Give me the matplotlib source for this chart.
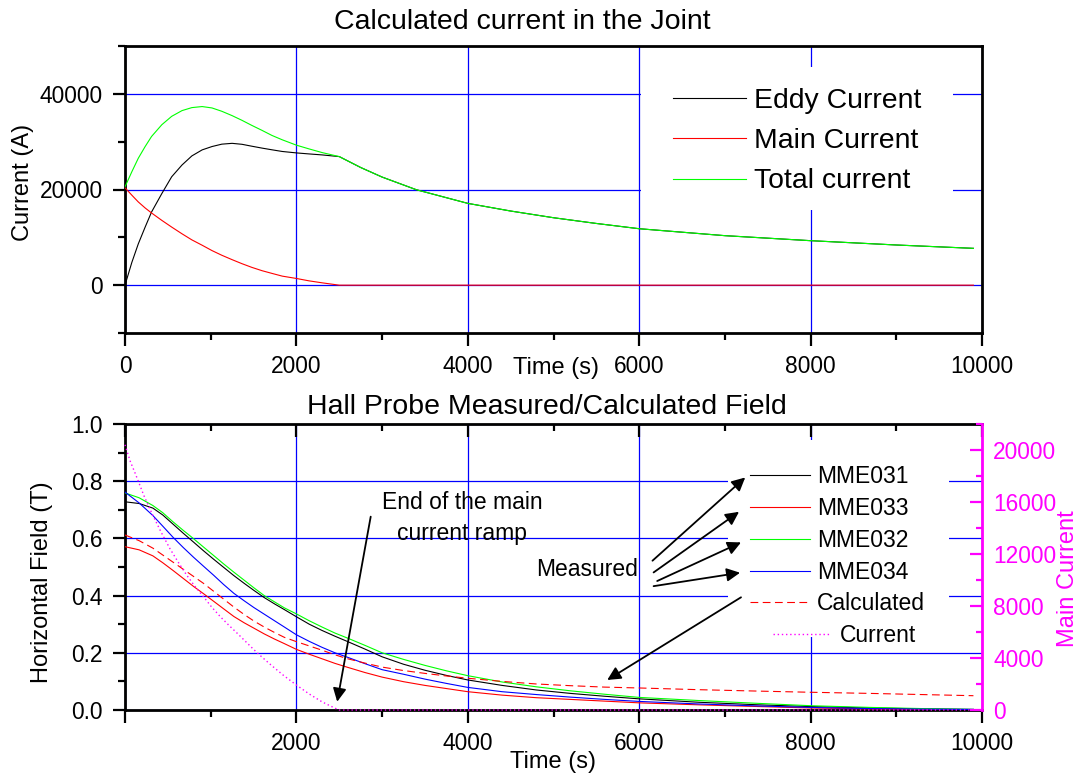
import matplotlib
matplotlib.use("Agg")
import matplotlib.pyplot as plt
from matplotlib.patches import Rectangle
from matplotlib.ticker import MultipleLocator, FixedLocator

plt.rcParams['font.family'] = ['Liberation Sans', 'DejaVu Sans']

# ---------------- data: top chart (current in the joint) ----------------
t_top = [0, 80, 155, 235, 310, 430, 545, 665, 780, 900, 1015, 1130, 1250, 1365,
         1480, 1600, 1715, 1835, 2000, 2145, 2300, 2500, 2750, 3000, 3400, 4000,
         4500, 5000, 5500, 6000, 7000, 8000, 9000, 9900]
eddy_current = [0, 4770, 8630, 12140, 15300, 19160, 22670, 25120, 27020, 28280,
                28980, 29480, 29650, 29450, 29050, 28650, 28300, 27950, 27650,
                27440, 27230, 26880, 24600, 22600, 19950, 17100, 15500, 14100,
                12900, 11800, 10350, 9300, 8400, 7700]
main_current = [20350, 18810, 17400, 16140, 15090, 13540, 12140, 10740, 9470,
                8350, 7230, 6250, 5330, 4490, 3720, 3020, 2460, 1890, 1400, 910,
                490, 0, 0, 0, 0, 0, 0, 0, 0, 0, 0, 0, 0, 0]
total_current = [20560, 23720, 26530, 28980, 31090, 33550, 35300, 36490, 37120,
                 37340, 37050, 36350, 35440, 34460, 33400, 32350, 31300, 30390,
                 29270, 28500, 27720, 26880, 24600, 22600, 19950, 17100, 15500,
                 14100, 12900, 11800, 10350, 9300, 8400, 7700]
top_labels = ['Eddy Current', 'Main Current', 'Total current']
top_xticks = [0, 2000, 4000, 6000, 8000, 10000]
top_xticklabels = ['0', '2000', '4000', '6000', '8000', '10000']
top_yticks = [0, 20000, 40000]
top_yticklabels = ['0', '20000', '40000']

# ---------------- data: bottom chart (Hall probe field) ----------------
t_bot = [0, 165, 325, 440, 560, 680, 800, 915, 1035, 1150, 1270, 1390, 1505,
         1625, 1745, 1860, 2000, 2150, 2300, 2450, 2600, 2800, 3000, 3250, 3500,
         3750, 4000, 4400, 4800, 5200, 5600, 6000, 6700, 7400, 8000, 8700, 9300,
         9900]
mme031 = [0.728, 0.722, 0.706, 0.682, 0.650, 0.618, 0.587, 0.557, 0.527, 0.499,
          0.470, 0.443, 0.418, 0.393, 0.371, 0.351, 0.326, 0.300, 0.278, 0.258,
          0.239, 0.213, 0.186, 0.160, 0.139, 0.121, 0.105, 0.086, 0.070, 0.058,
          0.048, 0.039, 0.027, 0.018, 0.012, 0.007, 0.004, 0.002]
mme033 = [0.571, 0.560, 0.539, 0.515, 0.488, 0.460, 0.432, 0.407, 0.380, 0.354,
          0.327, 0.305, 0.286, 0.266, 0.248, 0.232, 0.212, 0.195, 0.179, 0.163,
          0.149, 0.131, 0.115, 0.099, 0.086, 0.075, 0.064, 0.052, 0.043, 0.037,
          0.031, 0.025, 0.018, 0.012, 0.007, 0.004, 0.002, 0.001]
mme032 = [0.759, 0.742, 0.715, 0.690, 0.658, 0.628, 0.599, 0.570, 0.540, 0.511,
          0.482, 0.454, 0.427, 0.400, 0.378, 0.357, 0.336, 0.312, 0.290, 0.269,
          0.251, 0.226, 0.200, 0.177, 0.156, 0.137, 0.120, 0.098, 0.081, 0.067,
          0.055, 0.044, 0.033, 0.023, 0.015, 0.009, 0.005, 0.002]
mme034 = [0.762, 0.724, 0.680, 0.643, 0.604, 0.568, 0.534, 0.503, 0.471, 0.439,
          0.408, 0.382, 0.358, 0.335, 0.312, 0.290, 0.263, 0.240, 0.219, 0.200,
          0.184, 0.162, 0.141, 0.125, 0.108, 0.093, 0.079, 0.064, 0.054, 0.045,
          0.037, 0.030, 0.021, 0.014, 0.009, 0.005, 0.003, 0.002]
calculated = [0.612, 0.592, 0.566, 0.542, 0.517, 0.492, 0.467, 0.443, 0.415,
              0.388, 0.360, 0.334, 0.311, 0.290, 0.271, 0.254, 0.239, 0.224,
              0.209, 0.193, 0.179, 0.164, 0.150, 0.138, 0.128, 0.119, 0.111,
              0.100, 0.091, 0.085, 0.080, 0.077, 0.071, 0.066, 0.062, 0.058,
              0.054, 0.050]
t_cur = [0, 60, 126, 220, 323, 420, 521, 620, 718, 815, 915, 1010, 1112, 1210,
         1310, 1410, 1507, 1605, 1704, 1850, 2000, 2150, 2296, 2400, 2454, 2500,
         10000]
ramp_current = [20400, 19150, 18090, 16500, 15000, 13700, 12450, 11380, 10390,
                9520, 8720, 7930, 7180, 6530, 5900, 5250, 4620, 4030, 3460, 2660,
                1920, 1230, 640, 300, 130, 0, 0]
bot_labels = ['MME031', 'MME033', 'MME032', 'MME034', 'Calculated', 'Current']
bot_xticks = [0, 2000, 4000, 6000, 8000, 10000]
bot_xticklabels = ['', '2000', '4000', '6000', '8000', '10000']
bot_yticks = [0.0, 0.2, 0.4, 0.6, 0.8, 1.0]
bot_yticklabels = ['0.0', '0.2', '0.4', '0.6', '0.8', '1.0']
right_yticks = [0, 4000, 8000, 12000, 16000, 20000]
right_yticklabels = ['0', '4000', '8000', '12000', '16000', '20000']

GREEN = '#00ff00'
MAG = '#ff00ff'
W, H = 1082, 779
TICK_FS = 16.4
LAB_FS = 17
TITLE_FS = 20.5
SPW = 2.0

fig = plt.figure(figsize=(W / 100, H / 100), dpi=100)
ax1 = fig.add_axes([125 / W, 1 - 333 / H, 857 / W, 287 / H])
ax2 = fig.add_axes([125 / W, 1 - 710 / H, 857 / W, 286 / H])

# ---------------- top chart ----------------
ax1.plot(t_top, eddy_current, color='black', lw=0.8, label=top_labels[0], zorder=3)
ax1.plot(t_top, main_current, color='red', lw=0.8, label=top_labels[1], zorder=3)
ax1.plot(t_top, total_current, color=GREEN, lw=0.8, label=top_labels[2], zorder=3)
ax1.set_xlim(0, 10000)
ax1.set_ylim(-10000, 50000)
ax1.xaxis.set_major_locator(FixedLocator(top_xticks))
ax1.set_xticklabels(top_xticklabels)
ax1.xaxis.set_minor_locator(MultipleLocator(1000))
ax1.yaxis.set_major_locator(FixedLocator(top_yticks))
ax1.set_yticklabels(top_yticklabels)
ax1.yaxis.set_minor_locator(FixedLocator([-10000, 10000, 30000, 50000]))
ax1.grid(True, which='major', color='blue', lw=0.9)
ax1.tick_params(which='both', direction='out', width=1.6, labelsize=TICK_FS, pad=7)
ax1.tick_params(which='major', length=9)
ax1.tick_params(which='minor', length=5)
for s in ax1.spines.values():
    s.set_linewidth(SPW)
ax1.set_xlabel('Time (s)', fontsize=LAB_FS)
ax1.xaxis.set_label_coords(0.503, -0.082)
ax1.set_ylabel('Current (A)', fontsize=LAB_FS)
ax1.yaxis.set_label_coords(-0.106, 0.526)
ax1.add_patch(Rectangle((0.602, 0.429), 0.364, 0.498, transform=ax1.transAxes,
                        facecolor='white', edgecolor='none', zorder=1.6))
ax1.legend(loc='center left', bbox_to_anchor=(0.6394, 0.668), frameon=False,
           fontsize=20.4, handlelength=2.58, handletextpad=0.28,
           labelspacing=0.5, borderpad=0, borderaxespad=0)
fig.text(522 / W, 1 - 22 / H, 'Calculated current in the Joint',
         fontsize=TITLE_FS, ha='center', va='center')

# ---------------- bottom chart ----------------
l1, = ax2.plot(t_bot, mme031, color='black', lw=0.8, label=bot_labels[0], zorder=3)
l2, = ax2.plot(t_bot, mme033, color='red', lw=0.8, label=bot_labels[1], zorder=3)
l3, = ax2.plot(t_bot, mme032, color=GREEN, lw=0.8, label=bot_labels[2], zorder=3)
l4, = ax2.plot(t_bot, mme034, color='blue', lw=0.8, label=bot_labels[3], zorder=3)
l5, = ax2.plot(t_bot, calculated, color='red', lw=0.8, ls=(0, (7, 4)),
               label=bot_labels[4], zorder=3)
ax2.set_xlim(0, 10000)
ax2.set_ylim(0, 1)
ax2.xaxis.set_major_locator(FixedLocator(bot_xticks))
ax2.set_xticklabels(bot_xticklabels)
ax2.xaxis.set_minor_locator(MultipleLocator(1000))
ax2.yaxis.set_major_locator(FixedLocator(bot_yticks))
ax2.set_yticklabels(bot_yticklabels)
ax2.yaxis.set_minor_locator(MultipleLocator(0.1))
ax2.grid(True, which='major', color='blue', lw=0.9)
ax2.tick_params(which='both', direction='out', width=1.6, labelsize=TICK_FS, pad=7)
ax2.tick_params(which='major', length=9)
ax2.tick_params(which='minor', length=5)
for s in ax2.spines.values():
    s.set_linewidth(SPW)
ax2.spines['right'].set_visible(False)
ax2.set_xlabel('Time (s)', fontsize=LAB_FS)
ax2.xaxis.set_label_coords(0.5, -0.143)
ax2.set_ylabel('Horizontal Field (T)', fontsize=LAB_FS)
ax2.yaxis.set_label_coords(-0.084, 0.448)
ax2.add_patch(Rectangle((0.704, 0.255), 0.257, 0.689, transform=ax2.transAxes,
                        facecolor='white', edgecolor='none', zorder=1.6))
ax2.legend(handles=[l1, l2, l3, l4, l5], loc='center left',
           bbox_to_anchor=(0.729, 0.593), frameon=False, fontsize=16.5,
           handlelength=2.62, handletextpad=0.3, labelspacing=0.38,
           borderpad=0, borderaxespad=0)

# annotations
ax2.text(3935, 0.67, 'End of the main\ncurrent ramp', fontsize=16.5,
         ha='center', va='center', linespacing=1.45, zorder=4)
ax2.text(5390, 0.49, 'Measured', fontsize=16.5, ha='center', va='center', zorder=4)
arrow_kw = dict(arrowstyle='-|>', color='black', lw=1.3, mutation_scale=20,
                shrinkA=0, shrinkB=0)
ax2.annotate('', xy=(2476, 0.029), xytext=(2867, 0.676), arrowprops=arrow_kw, zorder=5)
for (x0, y0, x1, y1) in [(6155, 0.522, 7237, 0.813), (6168, 0.481, 7165, 0.693),
                         (6210, 0.451, 7188, 0.586), (6168, 0.433, 7177, 0.480),
                         (7188, 0.394, 5627, 0.105)]:
    ax2.annotate('', xy=(x1, y1), xytext=(x0, y0), arrowprops=arrow_kw, zorder=5)

# right axis: main current
ax3 = ax2.twinx()
l6, = ax3.plot(t_cur, ramp_current, color=MAG, lw=1.0, ls=(0, (1, 2)),
               label=bot_labels[5], clip_on=False, zorder=4)
ax3.set_ylim(0, 22000)
ax3.yaxis.set_major_locator(FixedLocator(right_yticks))
ax3.set_yticklabels(right_yticklabels)
ax3.yaxis.set_minor_locator(MultipleLocator(2000))
ax3.tick_params(axis='y', which='both', direction='in', colors=MAG, width=1.6,
                labelsize=TICK_FS, pad=8)
ax3.tick_params(axis='y', which='major', length=9)
ax3.tick_params(axis='y', which='minor', length=4)
for k in ['left', 'top', 'bottom']:
    ax3.spines[k].set_visible(False)
ax3.spines['right'].set_color(MAG)
ax3.spines['right'].set_linewidth(SPW)
ax3.xaxis.set_visible(True)
ax3.tick_params(axis='x', which='both', direction='in', bottom=False, top=True,
                labelbottom=False, labeltop=False, width=1.6)
ax3.tick_params(axis='x', which='major', length=9)
ax3.tick_params(axis='x', which='minor', length=5)
ax3.set_ylabel('Main Current', color=MAG, fontsize=LAB_FS)
ax3.yaxis.set_label_coords(1.0875, 0.46)
ax3.legend(handles=[l6], loc='center left', bbox_to_anchor=(0.756, 0.259),
           frameon=False, fontsize=16.5, handlelength=2.5, handletextpad=0.44,
           borderpad=0, borderaxespad=0)
fig.text(547 / W, 1 - 407 / H, 'Hall Probe Measured/Calculated Field',
         fontsize=TITLE_FS, ha='center', va='center')

fig.savefig('out.png', dpi=100)
